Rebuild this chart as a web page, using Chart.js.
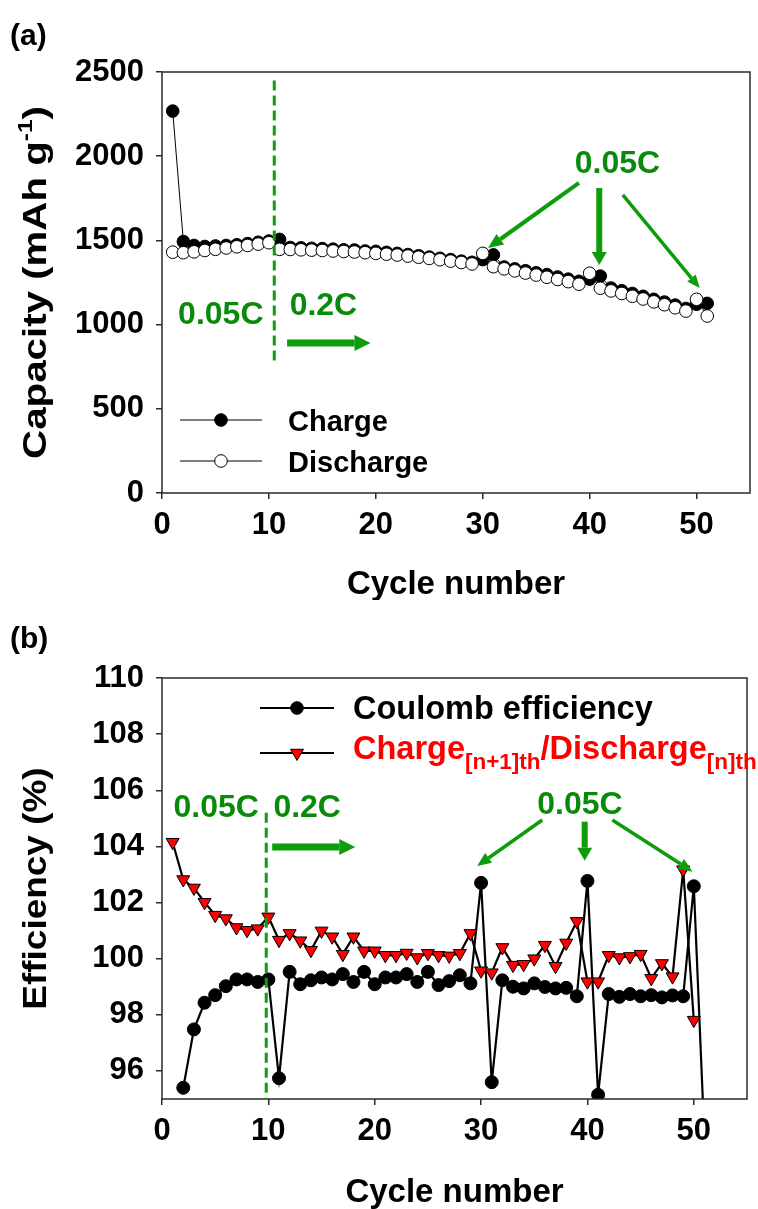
<!DOCTYPE html>
<html>
<head>
<meta charset="utf-8">
<title>Capacity and efficiency vs cycle</title>
<script src="https://cdn.jsdelivr.net/npm/chart.js@4.4.0/dist/chart.umd.min.js"></script>
<style>
  html, body { margin: 0; padding: 0; background: #fff; }
  #wrap { position: relative; width: 758px; height: 1209px; }
  canvas { position: absolute; left: 0; }
  #capChart { top: 0; }
  #effChart { top: 600px; }
</style>
</head>
<body>
<div id="wrap">
  <canvas id="capChart" width="758" height="600"></canvas>
  <canvas id="effChart" width="758" height="609"></canvas>
</div>
<script>
const FONT = "'Liberation Sans', Arial, sans-serif";
const GREEN_TEXT = '#0a8a0a';
const GREEN_LINE = '#0c9c0c';

// cycle numbers and axis ticks
const cycles = [1, 2, 3, 4, 5, 6, 7, 8, 9, 10, 11, 12, 13, 14, 15, 16, 17, 18, 19, 20,
  21, 22, 23, 24, 25, 26, 27, 28, 29, 30, 31, 32, 33, 34, 35, 36, 37, 38, 39, 40,
  41, 42, 43, 44, 45, 46, 47, 48, 49, 50, 51];
const cycleTicks = [0, 10, 20, 30, 40, 50];
const capTicks = [0, 500, 1000, 1500, 2000, 2500];
const effTicks = [96, 98, 100, 102, 104, 106, 108, 110];

// capacity, mAh/g
const chargeCap = [2268, 1493, 1470, 1464, 1467, 1470, 1474, 1481, 1489, 1496,
  1506, 1458, 1456, 1453, 1451, 1448, 1444, 1443, 1437, 1435,
  1429, 1423, 1416, 1409, 1401, 1394, 1386, 1377, 1370, 1386,
  1414, 1342, 1331, 1320, 1308, 1297, 1283, 1270, 1257, 1270,
  1288, 1217, 1201, 1185, 1168, 1150, 1134, 1116, 1096, 1121, 1126];
const dischargeCap = [1430, 1427, 1432, 1440, 1447, 1455, 1462, 1470, 1478, 1486,
  1447, 1446, 1444, 1442, 1440, 1437, 1434, 1431, 1427, 1423,
  1418, 1413, 1407, 1400, 1393, 1385, 1377, 1369, 1360, 1423,
  1344, 1331, 1319, 1306, 1294, 1281, 1268, 1255, 1240, 1305,
  1216, 1200, 1185, 1168, 1152, 1135, 1118, 1100, 1080, 1150, 1051];

// efficiency, %
const coulombEff = [null, 95.4, 97.48, 98.43, 98.7, 99.02, 99.26, 99.26, 99.17, 99.26,
  95.74, 99.53, 99.09, 99.23, 99.33, 99.26, 99.45, 99.17, 99.53, 99.09,
  99.33, 99.33, 99.45, 99.17, 99.53, 99.06, 99.2, 99.41, 99.12, 102.7,
  95.6, 99.23, 99.0, 98.94, 99.12, 98.99, 98.94, 98.96, 98.66, 102.77,
  95.15, 98.74, 98.64, 98.74, 98.66, 98.7, 98.62, 98.69, 98.66, 102.58, 93.6];
const chargeRatio = [104.15, 102.82, 102.52, 102.01, 101.55, 101.43, 101.11, 101.01, 101.07, 101.49,
  100.66, 100.9, 100.64, 100.3, 100.99, 100.78, 100.16, 100.78, 100.28, 100.28,
  100.12, 100.12, 100.2, 100.04, 100.19, 100.12, 100.1, 100.19, 100.9, 99.57,
  99.5, 100.4, 99.77, 99.8, 100.0, 100.48, 99.73, 100.56, 101.33, 99.18,
  99.18, 100.12, 100.04, 100.08, 100.16, 99.3, 99.83, 99.36, 103.17, 97.81, null];

const capLegend = ['Charge', 'Discharge'];
const effLegend = ['Coulomb efficiency', 'Charge', '[n+1]th', '/Discharge', '[n]th'];

function toPoints(ys) {
  return cycles.map((c, i) => ({ x: c, y: ys[i] }));
}

function setFont(ctx, size) {
  ctx.font = 'bold ' + size + 'px ' + FONT;
}

// draws a row of text pieces (for sub/superscripts)
function runsWidth(ctx, runs) {
  let w = 0;
  runs.forEach(r => { setFont(ctx, r.size); w += ctx.measureText(r.text).width; });
  return w;
}
function drawRuns(ctx, runs, x, y) {
  runs.forEach(r => {
    setFont(ctx, r.size);
    ctx.fillStyle = r.color || '#000';
    ctx.fillText(r.text, x, y + (r.dy || 0));
    x += ctx.measureText(r.text).width;
  });
}

function arrow(ctx, x0, y0, x1, y1, w, head, headW) {
  const ang = Math.atan2(y1 - y0, x1 - x0);
  const bx = x1 - Math.cos(ang) * head, by = y1 - Math.sin(ang) * head;
  ctx.lineWidth = w;
  ctx.beginPath(); ctx.moveTo(x0, y0); ctx.lineTo(bx, by); ctx.stroke();
  ctx.beginPath();
  ctx.moveTo(x1, y1);
  ctx.lineTo(bx + Math.sin(ang) * headW / 2, by - Math.cos(ang) * headW / 2);
  ctx.lineTo(bx - Math.sin(ang) * headW / 2, by + Math.cos(ang) * headW / 2);
  ctx.closePath(); ctx.fill();
}

function marker(ctx, style, x, y) {
  ctx.lineWidth = 1;
  ctx.strokeStyle = '#000';
  ctx.beginPath();
  if (style === 'tri') {
    const r = 7.5;
    ctx.moveTo(x, y + r);
    ctx.lineTo(x - r * 0.866, y - r / 2);
    ctx.lineTo(x + r * 0.866, y - r / 2);
    ctx.closePath();
    ctx.fillStyle = '#ff0000';
  } else {
    ctx.arc(x, y, 6.3, 0, Math.PI * 2);
    ctx.fillStyle = style === 'open' ? '#fff' : '#000';
  }
  ctx.fill(); ctx.stroke();
}

// frame, titles, legend and rate annotations
function makeDecor(cfg) {
  return {
    id: 'decor',
    afterDraw(chart) {
      const { ctx, chartArea: a } = chart;
      const xs = chart.scales.x, ys = chart.scales.y;
      const px = v => xs.getPixelForValue(v), py = v => ys.getPixelForValue(v);
      ctx.save();

      ctx.strokeStyle = '#2a2a2a';
      ctx.lineWidth = 1.5;
      ctx.strokeRect(a.left, a.top, a.right - a.left, a.bottom - a.top);

      // panel tag
      ctx.textAlign = 'left';
      ctx.textBaseline = 'alphabetic';
      setFont(ctx, 30);
      ctx.fillStyle = '#000';
      ctx.fillText(cfg.tag, 10, cfg.tagY);

      // x title
      setFont(ctx, 33);
      ctx.textAlign = 'center';
      ctx.fillText('Cycle number', (a.left + a.right) / 2, cfg.xTitleY);

      // y title, rotated and a little stretched along its length
      ctx.textAlign = 'left';
      ctx.save();
      ctx.translate(cfg.yTitleX, (a.top + a.bottom) / 2);
      ctx.rotate(-Math.PI / 2);
      ctx.scale(cfg.yTitleStretch, 1);
      drawRuns(ctx, cfg.yTitle, -runsWidth(ctx, cfg.yTitle) / 2, 0);
      ctx.restore();

      // legend rows
      cfg.legend.forEach(row => {
        const y = a.top + row.dy;
        ctx.strokeStyle = '#000';
        ctx.lineWidth = row.lw;
        ctx.beginPath();
        ctx.moveTo(a.left + cfg.legX0, y);
        ctx.lineTo(a.left + cfg.legX1, y);
        ctx.stroke();
        marker(ctx, row.marker, a.left + (cfg.legX0 + cfg.legX1) / 2, y);
        drawRuns(ctx, row.runs, a.left + cfg.legTextX, y + row.base);
      });

      // rate switch line
      ctx.strokeStyle = GREEN_LINE;
      ctx.lineWidth = 3;
      ctx.setLineDash([10, 5]);
      ctx.beginPath();
      ctx.moveTo(px(cfg.switchLine.x), py(cfg.switchLine.y0));
      ctx.lineTo(px(cfg.switchLine.x), py(cfg.switchLine.y1));
      ctx.stroke();
      ctx.setLineDash([]);

      // rate labels
      setFont(ctx, 32);
      ctx.fillStyle = GREEN_TEXT;
      ctx.textAlign = 'center';
      cfg.rateLabels.forEach(l => ctx.fillText(l.text, px(l.x), py(l.y) + 11.5));

      ctx.fillStyle = GREEN_LINE;
      ctx.strokeStyle = GREEN_LINE;
      cfg.arrows.forEach(r => arrow(ctx, px(r.x0), py(r.y0), px(r.x1), py(r.y1), r.w, r.head, r.headW));

      ctx.restore();
    }
  };
}

function axisOptions(min, max, ticks, fit, isX) {
  return {
    type: 'linear',
    min: min,
    max: max,
    afterBuildTicks: s => { s.ticks = ticks.map(v => ({ value: v })); },
    afterFit: s => { if (isX) s.height = fit; else s.width = fit; },
    border: { display: false },
    grid: { drawOnChartArea: false, drawTicks: true, tickLength: 6, color: '#2a2a2a', lineWidth: 1.5 },
    ticks: {
      autoSkip: false, maxRotation: 0, color: '#000',
      padding: isX ? 8 : 12,
      callback: v => String(v),
      font: { family: FONT, size: 31, weight: 'bold' }
    }
  };
}

new Chart(document.getElementById('capChart'), {
  type: 'line',
  data: {
    datasets: [
      {
        label: capLegend[0], data: toPoints(chargeCap), order: 1,
        borderColor: '#000', borderWidth: 1, tension: 0,
        pointRadius: 6.3, pointBackgroundColor: '#000', pointBorderColor: '#000', pointBorderWidth: 1
      },
      {
        label: capLegend[1], data: toPoints(dischargeCap), order: 0,
        borderColor: '#000', borderWidth: 1, tension: 0,
        pointRadius: 6.3, pointBackgroundColor: '#fff', pointBorderColor: '#000', pointBorderWidth: 1
      }
    ]
  },
  options: {
    responsive: false, animation: false,
    layout: { padding: { left: 0, right: 8, top: 72, bottom: 0 } },
    plugins: { legend: { display: false }, tooltip: { enabled: false } },
    scales: {
      x: axisOptions(0, 55, cycleTicks, 107, true),
      y: axisOptions(0, 2500, capTicks, 162, false)
    }
  },
  plugins: [makeDecor({
    tag: '(a)', tagY: 45, xTitleY: 600 - 6,
    yTitleX: 46, yTitleStretch: 1.22,
    yTitle: [
      { text: 'Capacity (mAh g', size: 33 },
      { text: '-1', size: 20, dy: -14 },
      { text: ')', size: 33 }
    ],
    legX0: 18, legX1: 100, legTextX: 126,
    legend: [
      { dy: 348, base: 10.5, lw: 1, marker: 'filled', runs: [{ text: capLegend[0], size: 29 }] },
      { dy: 389, base: 10.5, lw: 1, marker: 'open', runs: [{ text: capLegend[1], size: 29 }] }
    ],
    switchLine: { x: 10.5, y0: 2450, y1: 780 },
    rateLabels: [
      { text: '0.05C', x: 5.5, y: 1069 },
      { text: '0.2C', x: 15.1, y: 1128 },
      { text: '0.05C', x: 42.6, y: 1966 }
    ],
    arrows: [
      { x0: 11.7, y0: 891, x1: 19.5, y1: 891, w: 7, head: 16, headW: 16 },
      { x0: 39.0, y0: 1841, x1: 30.5, y1: 1455, w: 4, head: 15, headW: 13 },
      { x0: 40.9, y0: 1811, x1: 40.9, y1: 1354, w: 6, head: 13, headW: 15 },
      { x0: 43.1, y0: 1770, x1: 50.3, y1: 1217, w: 3.5, head: 13, headW: 11 }
    ]
  })]
});

new Chart(document.getElementById('effChart'), {
  type: 'line',
  data: {
    datasets: [
      {
        label: effLegend[0], data: toPoints(coulombEff), order: 1,
        borderColor: '#000', borderWidth: 2.2, tension: 0,
        pointRadius: 6.5, pointBackgroundColor: '#000', pointBorderColor: '#000', pointBorderWidth: 1
      },
      {
        label: effLegend[1] + effLegend[2] + effLegend[3] + effLegend[4], data: toPoints(chargeRatio), order: 0,
        borderColor: '#000', borderWidth: 2.2, tension: 0,
        pointStyle: 'triangle', rotation: 180,
        pointRadius: 7.5, pointBackgroundColor: '#ff0000', pointBorderColor: '#000', pointBorderWidth: 1
      }
    ]
  },
  options: {
    responsive: false, animation: false,
    layout: { padding: { left: 0, right: 11, top: 78, bottom: 0 } },
    plugins: { legend: { display: false }, tooltip: { enabled: false } },
    scales: {
      x: axisOptions(0, 55, cycleTicks, 110, true),
      y: axisOptions(95, 110, effTicks, 162, false)
    }
  },
  plugins: [makeDecor({
    tag: '(b)', tagY: 48, xTitleY: 609 - 7,
    yTitleX: 46, yTitleStretch: 1.12,
    yTitle: [{ text: 'Efficiency (%)', size: 33 }],
    legX0: 98, legX1: 172, legTextX: 191,
    legend: [
      { dy: 30, base: 11, lw: 2, marker: 'filled', runs: [{ text: effLegend[0], size: 32.5 }] },
      {
        dy: 75, base: 6, lw: 2, marker: 'tri', runs: [
          { text: effLegend[1], size: 32.5, color: '#ff0000' },
          { text: effLegend[2], size: 22.5, color: '#ff0000', dy: 10 },
          { text: effLegend[3], size: 32.5, color: '#ff0000' },
          { text: effLegend[4], size: 22.5, color: '#ff0000', dy: 10 }
        ]
      }
    ],
    switchLine: { x: 9.8, y0: 105.2, y1: 95 },
    rateLabels: [
      { text: '0.05C', x: 5.1, y: 105.44 },
      { text: '0.2C', x: 13.65, y: 105.44 },
      { text: '0.05C', x: 39.3, y: 105.58 }
    ],
    arrows: [
      { x0: 10.36, y0: 103.98, x1: 18.17, y1: 103.98, w: 7, head: 16, headW: 16 },
      { x0: 35.75, y0: 104.94, x1: 29.63, y1: 103.3, w: 3.5, head: 14, headW: 12 },
      { x0: 39.74, y0: 104.88, x1: 39.74, y1: 103.49, w: 6, head: 13, headW: 15 },
      { x0: 42.34, y0: 104.94, x1: 49.88, y1: 103.1, w: 3.5, head: 14, headW: 12 }
    ]
  })]
});
</script>
</body>
</html>
